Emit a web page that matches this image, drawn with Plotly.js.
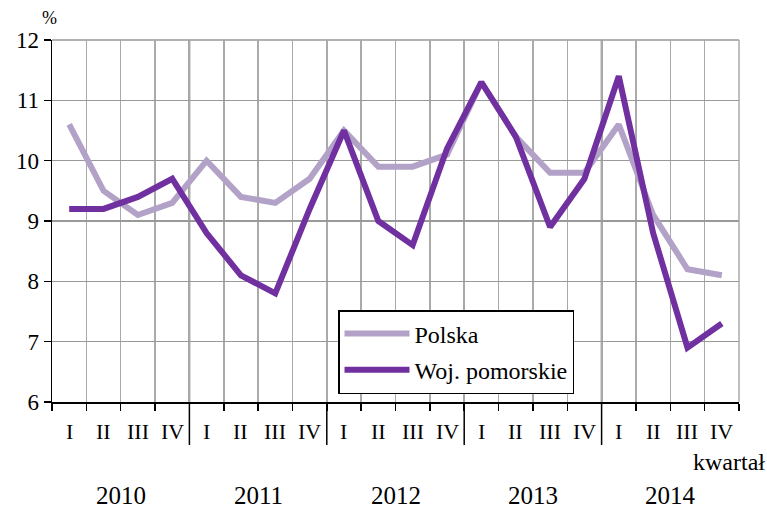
<!DOCTYPE html>
<html>
<head>
<meta charset="utf-8">
<script src="https://cdn.plot.ly/plotly-3.0.1.min.js"></script>
<style>html,body{margin:0;padding:0;background:#fff}#chart{width:767px;height:508px}</style>
</head>
<body>
<div id="chart"></div>
<script>
var years = ["2010", "2011", "2012", "2013", "2014"];
var quarters = ["I", "II", "III", "IV"];
var polska = [10.6, 9.5, 9.1, 9.3, 10.0, 9.4, 9.3, 9.7, 10.5, 9.9, 9.9, 10.1, 11.3, 10.4, 9.8, 9.8, 10.6, 9.1, 8.2, 8.1];
var pomorskie = [9.2, 9.2, 9.4, 9.7, 8.8, 8.1, 7.8, 9.2, 10.5, 9.0, 8.6, 10.2, 11.3, 10.4, 8.9, 9.7, 11.4, 8.8, 6.9, 7.3];
var seriesNames = ["Polska", "Woj. pomorskie"];
var yUnit = "%";
var xUnit = "kwartał";

var W = 767, H = 508, L = 52, R = 28, T = 40, B = 106;
var pw = W - L - R, ph = H - T - B;
function px(x) { return (x - L) / pw; }
function py(y) { return (H - B - y) / ph; }

var n = years.length * quarters.length;
var xs = [];
for (var i = 0; i < n; i++) xs.push(i + 0.5);

var fam = "Liberation Serif, Times New Roman, serif";
function f(size) { return {family: fam, size: size, color: "#000"}; }

var traces = [
  {x: xs, y: polska, name: seriesNames[0], type: "scatter", mode: "lines",
   line: {color: "#b3a2c7", width: 6}, legendgroup: "a"},
  {x: xs, y: pomorskie, name: seriesNames[1], type: "scatter", mode: "lines",
   line: {color: "#7030a0", width: 6}, legendgroup: "b"}
];

var annotations = [];
for (var k = 0; k < n; k++) {
  annotations.push({x: xs[k], xref: "x", y: py(432), yref: "paper", text: quarters[k % quarters.length],
    showarrow: false, font: f(22), xanchor: "center", yanchor: "middle"});
}
for (var j = 0; j < years.length; j++) {
  annotations.push({x: j * quarters.length + quarters.length / 2, xref: "x", y: py(496), yref: "paper",
    text: years[j], showarrow: false, font: f(25), xanchor: "center", yanchor: "middle"});
}
annotations.push({x: px(767), xref: "paper", y: py(462), yref: "paper", text: xUnit, showarrow: false,
  font: f(24), xanchor: "right", yanchor: "middle"});
annotations.push({x: px(49), xref: "paper", y: py(18), yref: "paper", text: yUnit, showarrow: false,
  font: f(18), xanchor: "center", yanchor: "middle"});

var shapes = [];
for (var m = 1; m < years.length; m++) {
  shapes.push({type: "line", xref: "x", yref: "paper", x0: m * quarters.length, x1: m * quarters.length,
    y0: py(445), y1: 1, line: {color: "#000", width: 1.5}, layer: "below"});
}
shapes.push({type: "line", xref: "paper", yref: "paper", x0: 0, x1: 1, y0: 1, y1: 1,
  line: {color: "#999", width: 1.5}, layer: "below"});
shapes.push({type: "line", xref: "paper", yref: "paper", x0: 1, x1: 1, y0: 0, y1: 1,
  line: {color: "#aaa", width: 1.5}, layer: "below"});

var layout = {
  width: W, height: H,
  margin: {l: L, r: R, t: T, b: B, pad: 0},
  paper_bgcolor: "#fff", plot_bgcolor: "#fff",
  showlegend: true,
  font: f(22),
  xaxis: {range: [0, n], tickmode: "linear", tick0: 0, dtick: 1, showticklabels: false,
    ticks: "outside", ticklen: 7, tickwidth: 1.5, tickcolor: "#000",
    showgrid: true, gridcolor: "#aaa", gridwidth: 1.5, zeroline: false,
    showline: true, linecolor: "#000", linewidth: 1.5, fixedrange: true},
  yaxis: {range: [6, 12], tickmode: "linear", tick0: 6, dtick: 1,
    ticks: "outside", ticklen: 7, tickwidth: 1.5, tickcolor: "#000",
    showgrid: true, gridcolor: "#999", gridwidth: 1.5, zeroline: false,
    showline: true, linecolor: "#000", linewidth: 1.5, tickfont: f(23), fixedrange: true},
  legend: {x: px(338), y: py(310), xanchor: "left", yanchor: "top",
    bgcolor: "#fff", bordercolor: "#000", borderwidth: 1.5,
    font: f(24), tracegroupgap: 2, itemwidth: 65},
  annotations: annotations,
  shapes: shapes
};

Plotly.newPlot("chart", traces, layout, {displayModeBar: false, staticPlot: true});
</script>
</body>
</html>
